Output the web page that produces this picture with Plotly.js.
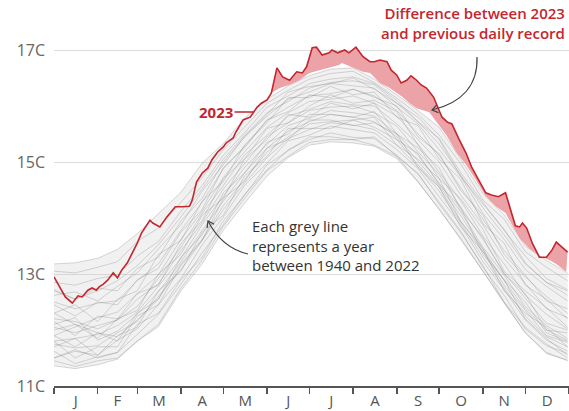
<!DOCTYPE html>
<html>
<head>
<meta charset="utf-8">
<script src="https://cdn.plot.ly/plotly-3.0.1.min.js"></script>
<style>
  html, body { margin: 0; padding: 0; background: #fff; }
  #chart { width: 569px; height: 411px; }
</style>
</head>
<body>
<div id="chart"></div>
<script>
// ---- Data ----
const monthLabels = ["J","F","M","A","M","J","J","A","S","O","N","D"];
const monthMid    = [15.5,45,74.5,105,135.5,166,196.5,227.5,258,288.5,319,349.5];
const monthStarts = [0,31,59,90,120,151,181,212,243,273,304,334,365];
const yTickVals   = [11,13,15,17];
const yTickText   = ["11C","13C","15C","17C"];

// Days (day of year) at which the grey year-lines were read
const greyDays = [0,15,31,45,59,74,90,105,120,135,151,166,181,196,212,227,243,258,273,288,304,319,334,349,364];

// Grey lines: a sample of the years 1940-2022 (°C)
const greyLines = [
  [11.36,11.31,11.38,11.48,11.80,12.06,12.70,13.18,13.78,14.26,14.75,15.08,15.30,15.36,15.34,15.28,15.06,14.64,14.16,13.62,13.05,12.48,11.95,11.58,11.46],
  [11.62,11.40,11.52,11.60,11.92,12.28,12.82,13.38,13.88,14.42,14.86,15.22,15.40,15.52,15.44,15.42,15.12,14.78,14.28,13.78,13.12,12.62,12.02,11.72,11.58],
  [11.50,11.62,11.55,11.82,12.02,12.45,12.92,13.52,14.02,14.58,14.98,15.38,15.48,15.64,15.58,15.52,15.22,14.88,14.38,13.88,13.22,12.72,12.18,11.82,11.62],
  [11.75,11.68,11.72,11.95,12.15,12.60,13.08,13.60,14.15,14.62,15.08,15.42,15.58,15.70,15.66,15.58,15.30,14.92,14.48,13.92,13.30,12.75,12.25,11.88,11.70],
  [12.30,12.10,11.95,11.88,12.18,12.55,13.18,13.62,14.22,14.68,15.18,15.45,15.68,15.72,15.75,15.62,15.40,14.95,14.55,13.95,13.40,12.80,12.35,11.90,11.78],
  [11.80,11.85,11.92,12.08,12.32,12.78,13.28,13.88,14.38,14.90,15.32,15.65,15.78,15.92,15.88,15.82,15.50,15.12,14.62,14.12,13.48,12.98,12.42,12.08,11.85],
  [12.10,12.22,11.82,11.98,12.28,12.68,13.22,13.78,14.30,14.80,15.25,15.55,15.72,15.85,15.80,15.72,15.45,15.02,14.58,14.05,13.45,12.88,12.38,12.00,11.82],
  [12.05,11.95,12.08,12.18,12.55,12.82,13.42,13.92,14.52,14.98,15.45,15.70,15.92,15.98,16.00,15.88,15.64,15.18,14.78,14.20,13.62,13.02,12.58,12.12,12.00],
  [12.20,12.15,12.02,12.18,12.42,12.92,13.48,14.08,14.58,15.12,15.48,15.82,15.94,16.08,16.02,16.00,15.68,15.32,14.82,14.32,13.68,13.18,12.62,12.28,12.02],
  [11.90,12.05,12.22,12.32,12.65,12.98,13.62,14.12,14.72,15.18,15.62,15.88,16.08,16.12,16.18,16.05,15.82,15.40,15.00,14.42,13.88,13.28,12.82,12.38,12.22],
  [12.50,12.38,12.48,12.52,12.88,13.18,13.78,14.28,14.88,15.28,15.75,15.98,16.18,16.22,16.30,16.18,15.92,15.50,15.12,14.55,13.98,13.42,12.98,12.52,12.38],
  [12.62,12.68,12.52,12.78,13.02,13.45,13.88,14.48,14.95,15.45,15.82,16.12,16.25,16.40,16.36,16.32,15.98,15.68,15.22,14.75,14.08,13.62,13.08,12.78,12.52],
  [12.72,12.55,12.70,12.88,13.15,13.52,14.02,14.52,15.05,15.48,15.88,16.08,16.32,16.42,16.45,16.38,16.05,15.72,15.32,14.78,14.18,13.70,13.18,12.85,12.62],
  [12.85,12.80,12.92,12.98,13.32,13.58,14.12,14.58,15.12,15.52,15.98,16.18,16.40,16.48,16.52,16.40,16.10,15.72,15.42,14.82,14.28,13.78,13.32,12.92,12.72],
  [13.05,13.02,13.12,13.22,13.58,13.82,14.28,14.72,15.22,15.62,16.05,16.28,16.48,16.58,16.62,16.42,16.14,15.85,15.48,14.98,14.32,13.98,13.40,13.12,12.88],
  [13.18,13.20,13.28,13.44,13.72,14.08,14.46,14.98,15.33,15.78,16.12,16.36,16.54,16.66,16.68,16.48,16.20,15.92,15.62,15.06,14.44,14.06,13.50,13.24,13.02],
  [11.70,11.85,11.55,11.90,12.05,12.70,13.05,13.75,14.05,14.75,15.10,15.60,15.60,15.60,15.75,15.80,15.30,15.05,14.70,13.95,13.45,12.70,12.30,12.05,11.70],
  [12.30,12.45,12.15,12.55,12.70,13.35,13.60,14.30,14.65,15.30,15.70,16.15,16.15,16.35,16.20,16.25,15.80,15.65,15.05,14.70,13.90,13.55,12.80,12.55,12.20],
  [11.50,11.65,11.50,11.60,12.10,12.30,12.90,13.30,13.95,14.40,14.95,15.20,15.45,15.45,15.40,15.45,15.10,14.80,14.25,13.75,13.15,12.50,12.05,11.75,11.50],
  [12.00,12.10,11.85,12.20,12.35,13.00,13.35,14.05,14.35,15.05,15.40,15.85,15.80,16.05,15.95,16.05,15.50,15.25,14.90,14.15,13.65,13.00,12.65,12.00,11.95],
  [12.70,12.55,12.75,12.70,13.10,13.30,13.95,14.35,15.00,15.45,15.85,16.25,16.35,16.40,16.50,16.30,16.05,15.80,15.40,14.75,14.25,13.80,13.20,12.85,12.70],
  [11.80,11.50,11.70,11.70,12.25,12.45,13.15,13.60,14.35,14.65,15.25,15.40,15.75,15.75,15.65,15.70,15.50,14.90,14.55,13.85,13.40,12.90,12.20,11.85,11.55],
  [12.15,11.90,12.25,12.20,12.65,12.80,13.55,13.95,14.70,15.05,15.60,15.70,16.00,16.20,16.05,16.10,15.90,15.30,14.70,14.35,13.80,13.05,12.70,12.40,12.05],
  [11.45,11.35,11.45,11.50,11.80,12.10,12.75,13.25,13.85,14.35,14.85,15.10,15.35,15.40,15.40,15.30,15.10,14.65,14.15,13.65,13.05,12.50,11.95,11.60,11.45],
  [12.45,12.25,12.50,12.45,12.90,13.10,13.75,14.15,14.90,15.25,15.75,15.90,16.20,16.15,16.30,16.15,16.00,15.45,15.15,14.50,14.05,13.35,12.95,12.60,12.30],
  [11.90,11.70,11.95,11.80,12.30,12.55,13.30,13.70,14.45,14.80,15.35,15.50,15.85,15.85,15.80,15.90,15.40,15.15,14.60,14.20,13.35,12.90,12.50,11.95,11.80]
];

// 2023 daily temperature (°C)
const days2023 = [0,4,8,13,17,20,24,27,30,32,35,38,42,45,48,52,55,59,62,66,68,70,75,80,86,91,96,98,101,105,109,112,116,120,122,127,129,134,139,144,147,151,154,158,162,167,172,176,179,183,186,190,195,197,201,206,209,214,219,224,227,231,236,239,243,246,250,253,257,260,264,269,273,275,279,282,287,292,296,301,306,310,315,320,323,327,330,332,335,339,344,349,353,356,360,364];
const temp2023 = [12.95,12.77,12.59,12.48,12.61,12.59,12.71,12.75,12.71,12.77,12.82,12.89,13.02,12.93,13.07,13.20,13.34,13.55,13.73,13.89,13.96,13.91,13.84,14.02,14.20,14.20,14.21,14.32,14.64,14.80,14.89,15.04,15.18,15.27,15.34,15.43,15.54,15.75,15.80,15.98,16.05,16.11,16.23,16.68,16.52,16.46,16.61,16.59,16.70,17.04,17.05,16.91,16.95,17.00,16.95,17.00,16.95,17.05,16.88,16.79,16.79,16.82,16.79,16.64,16.55,16.41,16.46,16.54,16.46,16.38,16.32,16.16,15.93,15.80,15.71,15.68,15.41,15.16,14.91,14.68,14.45,14.41,14.38,14.45,14.20,13.86,13.84,13.91,13.82,13.55,13.30,13.30,13.43,13.57,13.48,13.39];

// Previous daily record (1940-2022), where 2023 exceeded it
const recordDays = [154,160,167,174,181,188,195,202,204,212,219,224,231,238,247,252,257,266,273,278,285,292,299,306,313,320,325,330,337,344,351,356,363];
const recordTemp = [16.23,16.32,16.38,16.46,16.59,16.64,16.68,16.73,16.77,16.68,16.61,16.59,16.41,16.32,16.16,16.05,15.96,15.89,15.66,15.48,15.18,14.95,14.68,14.39,14.21,14.09,13.86,13.64,13.45,13.32,13.25,13.18,13.04];

// ---- Styling ----
const RED = "#c4262e";
const PINK = "#eba3a7";
const FONT = "Open Sans, Noto Sans, sans-serif";

// plot area geometry (pixels) for decorations placed in paper coordinates
const L = 54, W = 515, H = 386;
function px(x) { return (x - L) / W; }
function py(y) { return (H - y) / H; }
function P(x, y) { return px(x).toFixed(4) + "," + py(y).toFixed(4); }

const traces = [];

// light band behind the grey lines
traces.push({x: greyDays, y: greyLines[0], mode: "lines", line: {width: 0}, hoverinfo: "skip"});
traces.push({x: greyDays, y: greyLines[15], mode: "lines", line: {width: 0},
  fill: "tonexty", fillcolor: "rgba(205,205,205,0.28)", hoverinfo: "skip"});

greyLines.forEach(function (vals) {
  traces.push({x: greyDays, y: vals, mode: "lines",
    line: {color: "rgba(110,110,110,0.33)", width: 0.8}, hoverinfo: "skip"});
});

// record line (invisible) and pink difference fill
traces.push({x: recordDays, y: recordTemp, mode: "lines", line: {width: 0, color: PINK}, hoverinfo: "skip"});
const fillDays = [], fillTemp = [];
days2023.forEach(function (d, i) { if (d >= recordDays[0]) { fillDays.push(d); fillTemp.push(temp2023[i]); } });
traces.push({x: fillDays, y: fillTemp, mode: "lines", line: {width: 0, color: PINK},
  fill: "tonexty", fillcolor: PINK, hoverinfo: "skip"});

// 2023 line
traces.push({x: days2023, y: temp2023, mode: "lines", line: {color: RED, width: 1.6}, hoverinfo: "skip"});

function chevron(tipX, tipY, a1x, a1y, a2x, a2y) {
  return "M" + P(a1x, a1y) + " L" + P(tipX, tipY) + " L" + P(a2x, a2y);
}

const layout = {
  width: 569, height: 411,
  margin: {l: 54, r: 0, t: 0, b: 25},
  paper_bgcolor: "#fff", plot_bgcolor: "#fff",
  showlegend: false,
  font: {family: FONT},
  xaxis: {
    range: [0, 365], tickmode: "array", tickvals: monthMid, ticktext: monthLabels,
    ticks: "", showgrid: false, zeroline: false,
    showline: true, linecolor: "#555", linewidth: 2,
    tickfont: {family: FONT, size: 15, color: "#555"},
    minor: {tickmode: "array", tickvals: monthStarts, ticks: "outside", ticklen: 6,
            tickcolor: "#555", tickwidth: 1.5, showgrid: false},
    fixedrange: true
  },
  yaxis: {
    range: [11, 11 + 386 / 56], tickmode: "array", tickvals: yTickVals, ticktext: yTickText,
    ticks: "", showgrid: true, gridcolor: "#dcdcdc", gridwidth: 1, zeroline: false,
    showline: false, tickfont: {family: FONT, size: 16, color: "#666"},
    ticklabelstandoff: 8, fixedrange: true
  },
  shapes: [
    {type: "path", xref: "paper", yref: "paper",
     path: "M" + P(248, 254) + " Q" + P(222, 248) + " " + P(208, 221),
     line: {color: "#444", width: 1.2}},
    {type: "path", xref: "paper", yref: "paper",
     path: chevron(208, 221, 207.1, 228, 214.2, 224.3),
     line: {color: "#444", width: 1.2}},
    {type: "path", xref: "paper", yref: "paper",
     path: "M" + P(477, 57) + " C" + P(478, 85) + " " + P(462, 103) + " " + P(432, 110),
     line: {color: "#444", width: 1.2}},
    {type: "path", xref: "paper", yref: "paper",
     path: chevron(432, 110, 438.5, 112.6, 436.7, 104.8),
     line: {color: "#444", width: 1.2}}
  ],
  annotations: [
    {xref: "paper", yref: "paper", x: px(567), y: py(23), xanchor: "right", yanchor: "middle",
     align: "right", showarrow: false,
     text: "Difference between 2023<br>and previous daily record",
     font: {family: FONT, size: 15, color: RED, weight: 600}},
    {xref: "paper", yref: "paper", x: px(250), y: py(245), xanchor: "left", yanchor: "middle",
     align: "left", showarrow: false,
     text: "Each grey line<br>represents a year<br>between 1940 and 2022",
     font: {family: FONT, size: 15, color: "#333"}},
    {xref: "paper", yref: "paper", x: px(253), y: py(112), ax: -37, ay: 0,
     showarrow: true, arrowhead: 0, arrowwidth: 1.5, arrowcolor: RED,
     text: "2023", font: {family: FONT, size: 15, color: RED, weight: 700}}
  ]
};

Plotly.newPlot("chart", traces, layout, {staticPlot: true, displayModeBar: false});
</script>
</body>
</html>
